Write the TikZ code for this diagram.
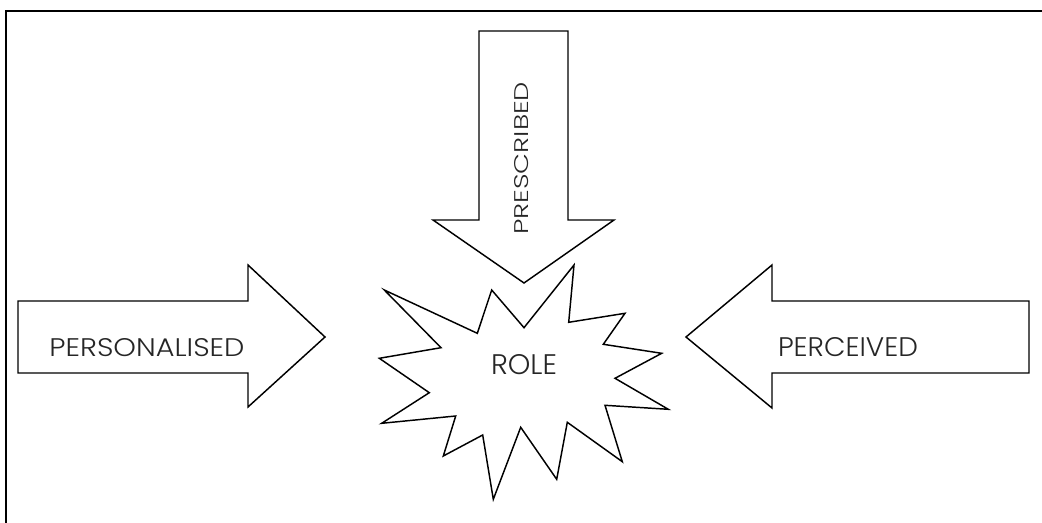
\documentclass[tikz,border=0pt]{standalone}
\usepackage{fontspec}
\setmainfont{Poppins Light}
\newlength\pxu
\setlength\pxu{0.75pt}
\begin{document}
\begin{tikzpicture}[x=0.75pt,y=-0.75pt,
  shapeline/.style={draw=black, fill=white, line width=1.1pt, line join=miter},
  lbl/.style={inner sep=0pt, font=\rmfamily, text=black!85}]
\useasboundingbox (0,0) rectangle (1042,523);
% frame (top and left edges only)
\draw[line width=1.6pt] (6,523) -- (6,11) -- (1042,11);
% left arrow
\draw[shapeline] (18,301) -- (248,301) -- (248,265) -- (325,337) -- (248,407) -- (248,373) -- (18,373) -- cycle;
% right arrow
\draw[shapeline] (1029,301) -- (772,301) -- (772,265) -- (686,337) -- (772,408) -- (772,373) -- (1029,373) -- cycle;
% top arrow
\draw[shapeline] (479,31) -- (568,31) -- (568,220) -- (614,220) -- (524,283) -- (433,220) -- (479,220) -- cycle;
% star
\draw[shapeline] (524,327.7) -- (574,265) -- (568.7,322.3) -- (625,313.3) -- (603.3,344.3) -- (661.7,353.3)
  -- (615,378.3) -- (668.3,409.3) -- (605,405.3) -- (622.3,461.7) -- (567.3,422.3) -- (556.7,479.3)
  -- (520.7,427.3) -- (493.3,499.3) -- (482.7,435) -- (443.3,456) -- (455.7,416) -- (381.7,423.3)
  -- (429.3,392.7) -- (379.3,358.3) -- (441,347.7) -- (384.3,290) -- (477.3,333.3) -- (491.7,290) -- cycle;
% labels
\node[lbl] (pers) at (147,347.5) {\resizebox{195\pxu}{18\pxu}{PERSONALISED}};
\node[lbl] (perc) at (848,347.5) {\resizebox{140\pxu}{19\pxu}{PERCEIVED}};
\node[lbl, rotate=90] (pres) at (521.3,158.3) {\resizebox{153\pxu}{14\pxu}{PRESCRIBED}};
\node[lbl] (role) at (524,365) {\resizebox{66\pxu}{20\pxu}{ROLE}};
\end{tikzpicture}
\end{document}
